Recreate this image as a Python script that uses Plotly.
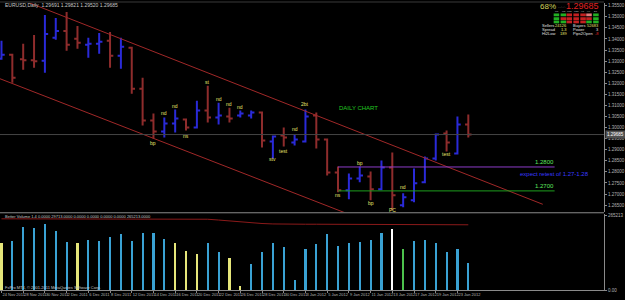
import plotly.graph_objects as go

# ---------------- data ----------------
dates = ["24 Nov 2011", "25 Nov 2011", "28 Nov 2011", "29 Nov 2011", "30 Nov 2011", "1 Dec 2011",
         "2 Dec 2011", "5 Dec 2011", "6 Dec 2011", "7 Dec 2011", "8 Dec 2011", "9 Dec 2011",
         "12 Dec 2011", "13 Dec 2011", "14 Dec 2011", "15 Dec 2011", "16 Dec 2011", "19 Dec 2011",
         "20 Dec 2011", "21 Dec 2011", "22 Dec 2011", "23 Dec 2011", "26 Dec 2011", "27 Dec 2011",
         "28 Dec 2011", "29 Dec 2011", "30 Dec 2011", "2 Jan 2012", "3 Jan 2012", "4 Jan 2012",
         "5 Jan 2012", "6 Jan 2012", "9 Jan 2012", "10 Jan 2012", "11 Jan 2012", "12 Jan 2012",
         "13 Jan 2012", "16 Jan 2012", "17 Jan 2012", "18 Jan 2012", "19 Jan 2012", "20 Jan 2012",
         "23 Jan 2012", "24 Jan 2012"]

opens = [1.33105, 1.33285, 1.33083, 1.33038, 1.33015, 1.34050, 1.34365, 1.34005, 1.33735, 1.33780,
         1.33915, 1.33240, 1.33600, 1.31755, 1.30315, 1.29820, 1.30180, 1.30360, 1.30000, 1.30765,
         1.30450, 1.30495, 1.30540, 1.30540, 1.30675, 1.29370, 1.29640, 1.29325, 1.29370, 1.30540,
         1.29460, 1.27975, 1.27165, 1.27705, 1.27795, 1.27210, 1.28200, 1.26490, 1.26715, 1.27525,
         1.28605, 1.29730, 1.28830, 1.30135]
highs = [1.33915, 1.33330, 1.33780, 1.34185, 1.35085, 1.34950, 1.35220, 1.34590, 1.34050, 1.34275,
         1.34320, 1.34050, 1.33645, 1.32250, 1.30630, 1.30450, 1.30810, 1.30405, 1.31215, 1.31890,
         1.31125, 1.30900, 1.30765, 1.30765, 1.30720, 1.29640, 1.30000, 1.29685, 1.30810, 1.30675,
         1.29505, 1.28245, 1.27930, 1.28245, 1.28020, 1.28515, 1.28875, 1.27030, 1.28155, 1.28695,
         1.29730, 1.29865, 1.30495, 1.30585]
lows = [1.33060, 1.32025, 1.32610, 1.32700, 1.32475, 1.33960, 1.33465, 1.33555, 1.33150, 1.33330,
        1.32700, 1.32655, 1.31530, 1.30090, 1.29505, 1.29550, 1.29775, 1.29865, 1.29955, 1.30225,
        1.30140, 1.30225, 1.30450, 1.30405, 1.29100, 1.28605, 1.29145, 1.29190, 1.29325, 1.29055,
        1.27840, 1.27075, 1.26760, 1.27525, 1.26715, 1.27165, 1.26265, 1.26400, 1.26625, 1.27480,
        1.28515, 1.28920, 1.28785, 1.29550]
closes = [1.33285, 1.32250, 1.33038, 1.32993, 1.34230, 1.34365, 1.33735, 1.33825, 1.33780, 1.33870,
          1.33240, 1.33645, 1.31755, 1.30315, 1.29820, 1.30180, 1.30405, 1.30000, 1.30765, 1.30450,
          1.30540, 1.30405, 1.30630, 1.30675, 1.29415, 1.29595, 1.29550, 1.29460, 1.30495, 1.29460,
          1.27975, 1.27165, 1.27705, 1.27840, 1.27210, 1.28200, 1.26940, 1.26850, 1.27480, 1.28605,
          1.29685, 1.29325, 1.30135, 1.29685]

volumes = [165500, 171500, 219500, 218000, 231000, 206500, 169000, 163500, 175000, 171500,
           185500, 195000, 171500, 200500, 198500, 177500, 163500, 137500, 125000, 163000,
           132000, 113000, 14000, 91000, 132000, 165500, 151500, 32500, 142500, 160000,
           196000, 155000, 163500, 167000, 174000, 198500, 213500, 143500, 172500, 175000,
           163500, 134000, 142500, 95500]
vol_kind = ["low", "mid", "mid", "mid", "mid", "mid", "mid", "low", "mid", "mid",
            "mid", "mid", "mid", "mid", "mid", "mid", "low", "low", "low", "mid",
            "mid", "low", "low", "mid", "mid", "mid", "mid", "mid", "mid", "mid",
            "mid", "mid", "mid", "mid", "mid", "mid", "climax", "churn", "mid", "mid",
            "mid", "mid", "mid", "mid"]
vol_avg = [250000] * 19 + [248500, 245700, 242500, 238700, 235500, 233500, 232000,
                           231000, 231000, 231000, 231000, 231000, 231000] + [229000] * 12

# channel lines (bar position, price)
upper_x = [2.14, 49.86]
upper_y = [1.35715, 1.26535]
lower_x = [-0.14, 32.0]
lower_y = [1.32205, 1.26085]

# horizontal levels
level_x = [31, 50.95]
level_purple = 1.2822
level_green = 1.2714

# yellow marks on bars
mark_text = ["bp", "nd", "nd", "ns", "st", "nd", "nd", "nd", "stv", "test", "nd", "2bt",
             "ns", "bp", "bp", "PC", "nd", "test"]
mark_bar = [14, 15, 16, 17, 19, 20, 21, 22, 25, 26, 27, 28, 31, 33, 34, 36, 37, 41]
mark_price = [1.29325, 1.30675, 1.30990, 1.29640, 1.32070, 1.31305, 1.31080, 1.30945, 1.28560,
              1.28920, 1.29955, 1.31080, 1.26940, 1.28380, 1.26580, 1.26265, 1.27300, 1.28785]

current_price = 1.29685

tf_labels = ["M1", "M5", "M15", "M30", "H1", "H4", "D1"]
tf_rows = [["g", "g", "r", "r", "r", "s", "g"],
           ["g", "r", "r", "r", "r", "r", "g"],
           ["g", "g", "r", "r", "r", "g", "g"]]

# ---------------- helpers (pixel -> paper) ----------------
PW, PH = 612.0, 290.0


def fx(x):
    return x / PW


def fy(y):
    return (PH - y) / PH


FONT = "Liberation Sans, Arial, sans-serif"
idx = list(range(len(dates)))
vol_colors = {"low": "#e6e67a", "mid": "#3aa2d4", "climax": "#ffffff", "churn": "#4cc24c"}

fig = go.Figure()

fig.add_trace(go.Ohlc(
    x=idx, open=opens, high=highs, low=lows, close=closes,
    increasing=dict(line=dict(color="#2a2ad8", width=2)),
    decreasing=dict(line=dict(color="#8e2c2c", width=2)),
    tickwidth=0.3, xaxis="x", yaxis="y", showlegend=False, hoverinfo="skip"))

for xs, ys in ((upper_x, upper_y), (lower_x, lower_y)):
    fig.add_trace(go.Scatter(x=xs, y=ys, mode="lines", line=dict(color="#a02828", width=1),
                             xaxis="x", yaxis="y", showlegend=False, hoverinfo="skip"))

fig.add_trace(go.Scatter(x=level_x, y=[level_purple] * 2, mode="lines",
                         line=dict(color="#8c3cc8", width=1), xaxis="x", yaxis="y",
                         showlegend=False, hoverinfo="skip"))
fig.add_trace(go.Scatter(x=level_x, y=[level_green] * 2, mode="lines",
                         line=dict(color="#1e9e1e", width=1), xaxis="x", yaxis="y",
                         showlegend=False, hoverinfo="skip"))

fig.add_trace(go.Bar(x=idx, y=volumes, width=0.2,
                     marker=dict(color=[vol_colors[k] for k in vol_kind], line=dict(width=0)),
                     xaxis="x2", yaxis="y2", showlegend=False, hoverinfo="skip"))
fig.add_trace(go.Scatter(x=idx, y=vol_avg, mode="lines", line=dict(color="#8b1a1a", width=1),
                         xaxis="x2", yaxis="y2", showlegend=False, hoverinfo="skip"))

annotations = []
small = dict(family=FONT, size=5)
tiny = dict(family=FONT, size=4)

for t, b, p in zip(mark_text, mark_bar, mark_price):
    annotations.append(dict(x=b, y=p, xref="x", yref="y", text=t, showarrow=False,
                            font=dict(small, color="#e6e66e"), xanchor="center", yanchor="middle"))

annotations += [
    dict(x=32.86, y=1.3090, xref="x", yref="y", text="DAILY CHART", showarrow=False,
         font=dict(family=FONT, size=6, color="#22c822")),
    dict(x=50.05, y=1.28425, xref="x", yref="y", text="1.2800", showarrow=False,
         font=dict(family=FONT, size=6, color="#5ee65e")),
    dict(x=50.05, y=1.27345, xref="x", yref="y", text="1.2700", showarrow=False,
         font=dict(family=FONT, size=6, color="#5ee65e")),
    dict(x=50.95, y=1.27885, xref="x", yref="y", text="expect retest of 1.27-1.28", showarrow=False,
         font=dict(family=FONT, size=6, color="#3a3aff")),
    dict(x=fx(3), y=fy(4.5), xref="paper", yref="paper",
         text="EURUSD,Daily  1.29691 1.29821 1.29520 1.29685", showarrow=False,
         xanchor="left", yanchor="middle", font=dict(small, color="#c8c8c8")),
    dict(x=fx(3), y=fy(216.5), xref="paper", yref="paper",
         text="Better Volume 1.4 0.0000 29713.0000 0.0000 0.0000 0.0000 0.0000 265213.0000",
         showarrow=False, xanchor="left", yanchor="middle", font=dict(tiny, color="#c8c8c8")),
    dict(x=fx(3), y=fy(287.5), xref="paper", yref="paper",
         text="FxPro MT4, © 2001-2011 MetaQuotes Software Corp.", showarrow=False,
         xanchor="left", yanchor="middle", font=dict(tiny, color="#c8c8c8")),
    # info panel
    dict(x=fx(545), y=fy(5.5), xref="paper", yref="paper", text="68%", showarrow=False,
         xanchor="left", yanchor="middle", font=dict(family=FONT, size=8, color="#d2d25a")),
    dict(x=fx(563), y=fy(6.5), xref="paper", yref="paper", text="....:..:.", showarrow=False,
         xanchor="left", yanchor="middle", font=dict(family=FONT, size=3, color="#8a8a8a")),
    dict(x=fx(608.5), y=fy(5), xref="paper", yref="paper", text="1.29685", showarrow=False,
         xanchor="right", yanchor="middle", font=dict(family=FONT, size=9, color="#e02222")),
    dict(x=fx(613), y=fy(134), xref="paper", yref="paper", text="1.29685", showarrow=False,
         xanchor="left", yanchor="middle", bgcolor="#505050",
         font=dict(family=FONT, size=4.5, color="#ffffff")),
]

info_rows = [("Sellers", "24126", "Buyers", "52683", "#e6e66e"),
             ("Spread", "1.3", "Power", "3", "#e0e0e0"),
             ("Hi2Low", "189", "Pips2Open", "-8", "#e02222")]
for r, (a, b, c, d, dcol) in enumerate(info_rows):
    yy = fy(25 + 4 * r)
    annotations += [
        dict(x=fx(547.5), y=yy, xref="paper", yref="paper", text=a, showarrow=False,
             xanchor="left", yanchor="middle", font=dict(tiny, color="#e0e0e0")),
        dict(x=fx(577), y=yy, xref="paper", yref="paper", text=b, showarrow=False,
             xanchor="right", yanchor="middle", font=dict(tiny, color="#e6e66e")),
        dict(x=fx(579), y=yy, xref="paper", yref="paper", text=c, showarrow=False,
             xanchor="left", yanchor="middle", font=dict(tiny, color="#e0e0e0")),
        dict(x=fx(608.5), y=yy, xref="paper", yref="paper", text=d, showarrow=False,
             xanchor="right", yanchor="middle", font=dict(tiny, color=dcol)),
    ]

box_left = [561, 568, 574, 581, 588, 594, 601]
box_colors = {"g": "#22b022", "r": "#c42020", "s": "#e27a7a"}
for i, lab in enumerate(tf_labels):
    annotations.append(dict(x=fx(box_left[i] + 3), y=fy(10.5), xref="paper", yref="paper",
                            text=lab, showarrow=False, xanchor="center", yanchor="middle",
                            font=dict(family=FONT, size=2.4, color="#c8c8c8")))

shapes = []
row_top = [12.5, 16.3, 19.6]
for r, row in enumerate(tf_rows):
    for i, c in enumerate(row):
        shapes.append(dict(type="rect", xref="paper", yref="paper",
                           x0=fx(box_left[i]), x1=fx(box_left[i] + 5.6),
                           y0=fy(row_top[r] + 2.8), y1=fy(row_top[r]),
                           fillcolor=box_colors[c], line=dict(width=0)))

shapes += [
    dict(type="line", xref="paper", yref="y", x0=0, x1=1, y0=current_price, y1=current_price,
         line=dict(color="#454545", width=1)),
    dict(type="line", xref="paper", yref="paper", x0=0, x1=1, y0=fy(212.5), y1=fy(212.5),
         line=dict(color="#8a8a8a", width=1)),
    dict(type="line", xref="paper", yref="paper", x0=0, x1=1, y0=fy(1), y1=fy(1),
         line=dict(color="#3a3a3a", width=1)),
]

axis_font = dict(family=FONT, size=4.5, color="#b4b4b4")
x_font = dict(family=FONT, size=4, color="#b4b4b4")

fig.update_layout(
    width=625, height=300,
    margin=dict(l=0, r=13, t=0, b=10),
    paper_bgcolor="#000000", plot_bgcolor="#000000",
    showlegend=False, bargap=0,
    annotations=annotations, shapes=shapes,
    xaxis=dict(domain=[0, 1], range=[-0.136, 55.5], anchor="y", showticklabels=False,
               showgrid=False, zeroline=False, rangeslider=dict(visible=False), fixedrange=True),
    xaxis2=dict(domain=[0, 1], range=[-0.136, 55.5], anchor="y2", showgrid=False, zeroline=False,
                tickvals=idx[::2], ticktext=dates[::2], ticklabelposition="outside right",
                tickangle=0, tickfont=x_font, ticks="outside", ticklen=2, tickcolor="#8a8a8a",
                showline=True, linecolor="#8a8a8a", linewidth=1),
    yaxis=dict(domain=[fy(212), fy(2)], range=[1.26175, 1.35625], side="right", anchor="x",
               showgrid=False, zeroline=False, tickformat=".5f", dtick=0.005, tick0=1.26,
               tickfont=axis_font, ticks="outside", ticklen=2, tickcolor="#8a8a8a",
               showline=True, linecolor="#8a8a8a", linewidth=1),
    yaxis2=dict(domain=[0, fy(214)], range=[0, 266000], side="right", anchor="x2",
                showgrid=False, zeroline=False, tickvals=[0, 262000], ticktext=["0.00", "265213"],
                tickfont=axis_font, ticks="outside", ticklen=2, tickcolor="#8a8a8a",
                showline=True, linecolor="#8a8a8a", linewidth=1),
)

fig.write_html("out.html")
